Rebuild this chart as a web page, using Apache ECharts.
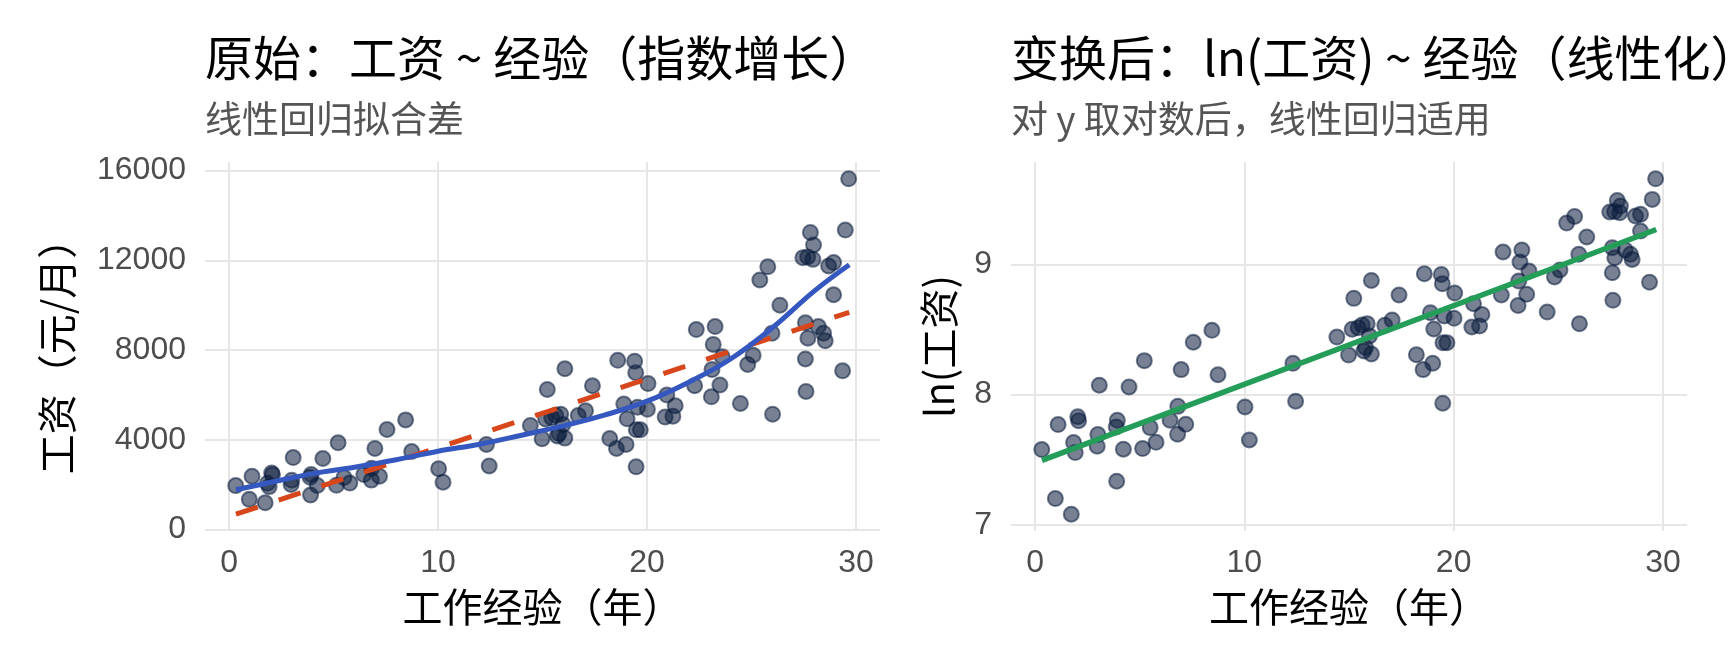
<!DOCTYPE html>
<html>
<head>
<meta charset="utf-8">
<script src="https://cdn.jsdelivr.net/npm/echarts@6.0.0/dist/echarts.min.js"></script>
<style>
  html, body { margin: 0; padding: 0; background: #fff; }
  #chart { width: 1728px; height: 672px; }
</style>
</head>
<body>
<div id="chart"></div>
<script>
// 工作经验（年）
var experience = [0.32, 0.97, 1.73, 1.10, 2.04, 2.08, 1.84, 1.92, 3.07, 3.00,
  2.97, 3.90, 3.93, 3.88, 4.22, 4.49, 5.22, 5.14, 5.50, 5.78,
  6.45, 6.82, 6.81, 6.98, 7.20, 7.56, 8.45, 8.74, 10.03, 10.24,
  12.32, 12.45, 14.42, 14.98, 15.23, 15.15, 15.44, 15.63, 15.87, 15.79,
  15.71, 16.07, 15.98, 16.07, 16.71, 17.06, 17.39, 18.22, 18.54, 19.00,
  18.60, 19.41, 19.46, 18.89, 19.05, 19.55, 20.02, 20.05, 19.49, 19.68,
  19.48, 20.95, 21.35, 20.87, 21.24, 22.28, 22.36, 23.26, 23.17, 23.60,
  23.11, 23.49, 23.08, 24.47, 24.82, 25.08, 25.40, 25.78, 25.98, 26.36,
  26.01, 27.58, 27.58, 27.61, 27.46, 27.69, 27.82, 27.97, 27.94, 27.70,
  28.20, 28.45, 28.53, 28.69, 28.93, 28.93, 29.36, 29.49, 29.65];

// 工资（元/月）
var wage = [1955, 1342, 1190, 2368, 2515, 2441, 2063, 1910, 3204, 2193,
  2006, 1533, 2448, 2326, 1961, 3162, 3870, 1970, 2314, 2067,
  2448, 2724, 2200, 3612, 2373, 4456, 4885, 3474, 2711, 2105,
  3790, 2833, 4638, 4040, 6242, 4920, 4984, 5090, 5141, 4277,
  4167, 4072, 4675, 7165, 5075, 5287, 6406, 4052, 3612, 3790,
  7540, 7503, 6988, 5591, 4934, 5453, 5356, 6503, 4443, 4443,
  2791, 5991, 5519, 5009, 5050, 6406, 8911, 9045, 8250, 7700,
  7127, 6438, 5913, 5620, 7354, 7763, 11124, 11708, 8751, 9997,
  5141, 9210, 7601, 6150, 12112, 12150, 13240, 12681, 12040, 8527,
  9045, 8751, 8417, 11743, 11896, 10464, 7070, 13347, 15632];

// 指数拟合曲线（蓝）
var expFitX = [0.33, 2, 4, 6, 8, 10, 12, 14, 16, 18, 20, 22, 24, 26, 28, 29.68];
var expFitY = [1770, 2103, 2490, 2776, 3106, 3490, 3801, 4201, 4617, 5106, 5718, 6564, 7600, 8990, 10626, 11800];

// 线性拟合（红虚线）
var linFitX = [0.33, 29.68];
var linFitY = [680, 9680];

// ln(工资) 线性拟合（绿）
var lnFitX = [0.33, 29.68];
var lnFitY = [7.495, 9.268];

var xTicks = [0, 10, 20, 30];
var yTicksRaw = [0, 4000, 8000, 12000, 16000];
var yTicksLog = [7, 8, 9];

var CJK = '"Noto Sans CJK SC", sans-serif';
var NUM = '"Liberation Sans", Arial, sans-serif';
var POINT = 'rgba(12,30,62,0.7)';

function pairs(xs, ys) {
  return xs.map(function (x, i) { return [x, ys[i]]; });
}

var lnWage = wage.map(function (v) { return Math.log(v); });

function xAxisOf(idx) {
  return {
    gridIndex: idx, type: 'value', min: -1.15, max: 31.15,
    axisLine: { show: false },
    axisTick: { show: false, customValues: xTicks },
    axisLabel: { customValues: xTicks, fontSize: 32, color: '#4d4d4d', fontFamily: NUM, margin: 16,
      formatter: function (v) { return String(v); } },
    splitLine: { show: true, lineStyle: { color: '#e6e6e6', width: 2 } },
    name: '工作经验（年）', nameLocation: 'middle', nameGap: 56,
    nameTextStyle: { fontSize: 40, color: '#000', fontFamily: CJK }
  };
}

var chart = echarts.init(document.getElementById('chart'));
var option = {
  animation: false,
  backgroundColor: '#fff',
  title: [
    { text: '原始：工资 ~ 经验（指数增长）', left: 205, top: 34, padding: 0,
      textStyle: { fontSize: 48, fontWeight: 'normal', color: '#000', fontFamily: CJK } },
    { text: '线性回归拟合差', left: 205, top: 100, padding: 0,
      textStyle: { fontSize: 37, fontWeight: 'normal', color: '#555', fontFamily: CJK } },
    { text: '变换后：ln(工资) ~ 经验（线性化）', left: 1011, top: 34, padding: 0,
      textStyle: { fontSize: 48, fontWeight: 'normal', color: '#000', fontFamily: CJK } },
    { text: '对 y 取对数后，线性回归适用', left: 1011, top: 100, padding: 0,
      textStyle: { fontSize: 37, fontWeight: 'normal', color: '#555', fontFamily: CJK } }
  ],
  grid: [
    { left: 205, top: 162, width: 675, height: 369 },
    { left: 1011, top: 162, width: 676, height: 369 }
  ],
  xAxis: [xAxisOf(0), xAxisOf(1)],
  yAxis: [
    {
      gridIndex: 0, type: 'value', min: -68, max: 16380,
      axisLine: { show: false },
      axisTick: { show: false, customValues: yTicksRaw },
      axisLabel: { customValues: yTicksRaw, fontSize: 32, color: '#4d4d4d', fontFamily: NUM, margin: 19,
        formatter: function (v) { return String(v); } },
      splitLine: { show: true, lineStyle: { color: '#e6e6e6', width: 2 } },
      name: '工资（元/月）', nameLocation: 'middle', nameRotate: 90, nameGap: 128,
      nameTextStyle: { fontSize: 40, color: '#000', fontFamily: CJK }
    },
    {
      gridIndex: 1, type: 'value', min: 6.953, max: 9.786,
      axisLine: { show: false },
      axisTick: { show: false, customValues: yTicksLog },
      axisLabel: { customValues: yTicksLog, fontSize: 32, color: '#4d4d4d', fontFamily: NUM, margin: 19,
        formatter: function (v) { return String(v); } },
      splitLine: { show: true, lineStyle: { color: '#e6e6e6', width: 2 } },
      name: 'ln(工资)', nameLocation: 'middle', nameRotate: 90, nameGap: 52,
      nameTextStyle: { fontSize: 40, color: '#000', fontFamily: CJK }
    }
  ],
  series: [
    {
      type: 'scatter', xAxisIndex: 0, yAxisIndex: 0,
      data: pairs(experience, wage), symbolSize: 15,
      itemStyle: { color: POINT, borderColor: POINT, borderWidth: 2 }
    },
    {
      type: 'line', xAxisIndex: 0, yAxisIndex: 0,
      data: pairs(linFitX, linFitY), showSymbol: false,
      lineStyle: { color: '#d8461c', width: 5, type: [23, 22] }
    },
    {
      type: 'line', xAxisIndex: 0, yAxisIndex: 0,
      data: pairs(expFitX, expFitY), showSymbol: false, smooth: 0.4,
      lineStyle: { color: '#3558c0', width: 5 }
    },
    {
      type: 'scatter', xAxisIndex: 1, yAxisIndex: 1,
      data: pairs(experience, lnWage), symbolSize: 15,
      itemStyle: { color: POINT, borderColor: POINT, borderWidth: 2 }
    },
    {
      type: 'line', xAxisIndex: 1, yAxisIndex: 1,
      data: pairs(lnFitX, lnFitY), showSymbol: false,
      lineStyle: { color: '#249d59', width: 5.5 }
    }
  ]
};
chart.setOption(option);
</script>
</body>
</html>
